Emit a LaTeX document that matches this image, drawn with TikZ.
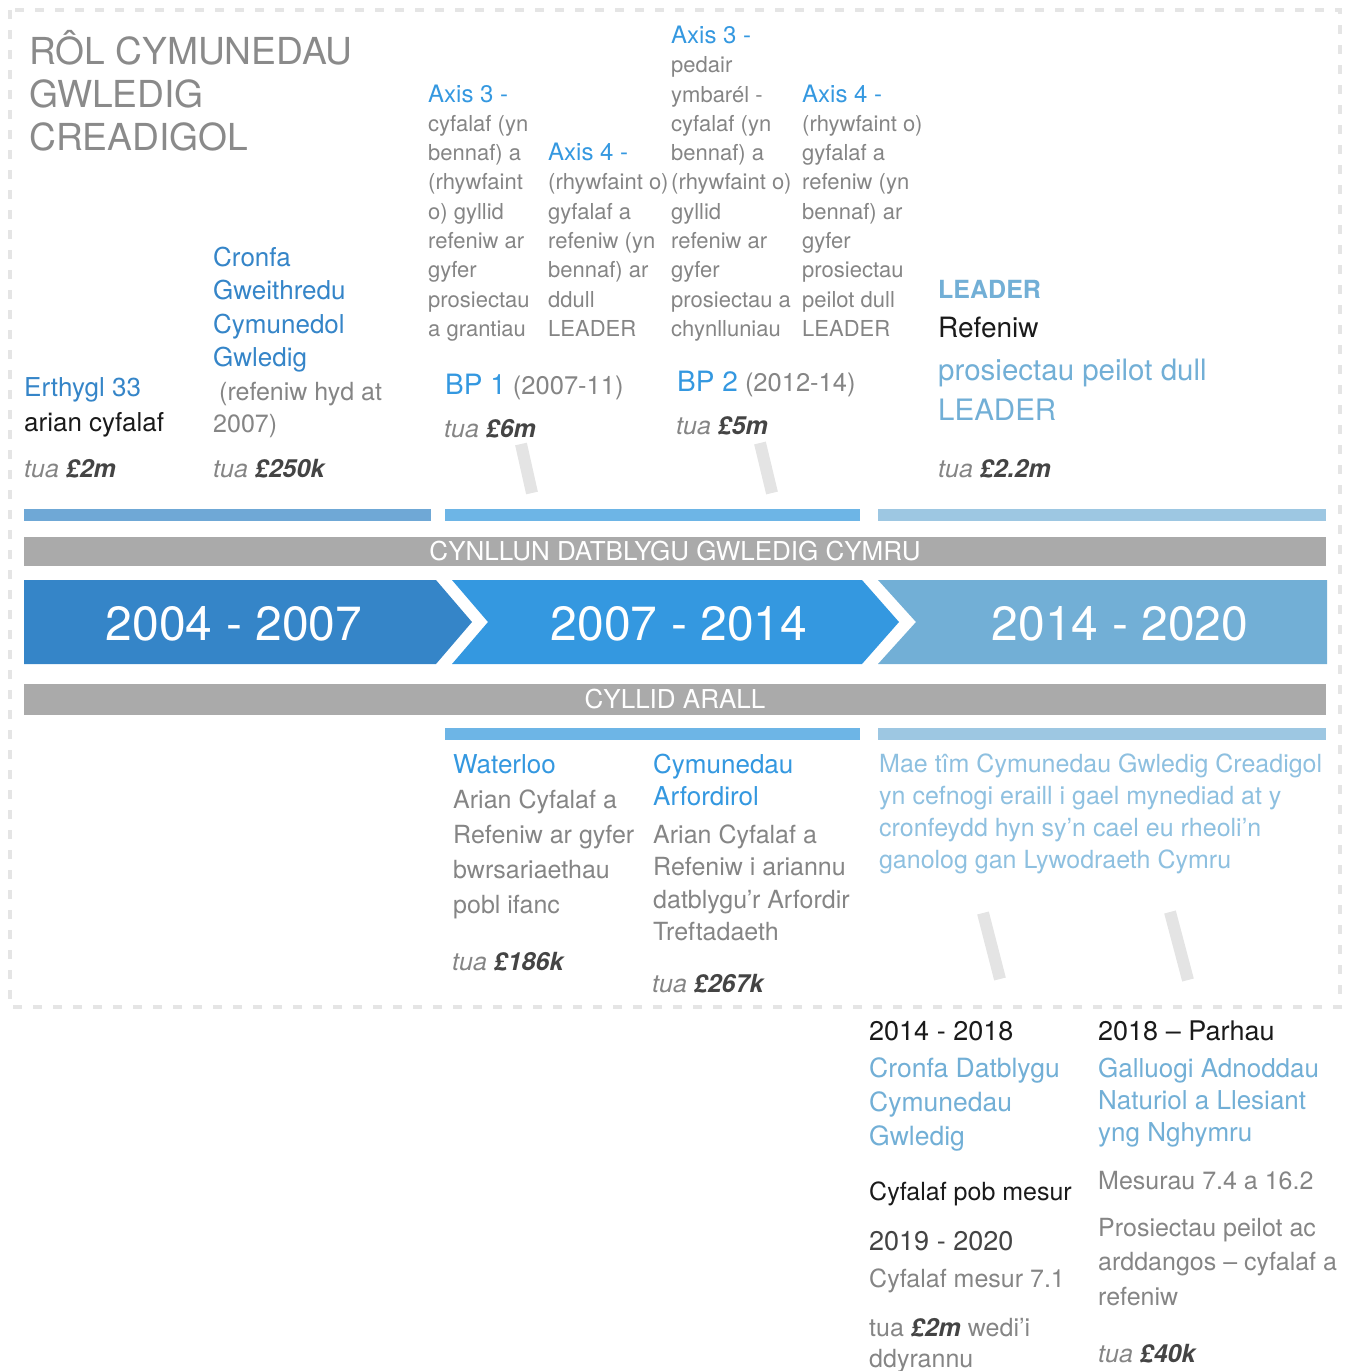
\documentclass[tikz,border=0pt]{standalone}
\usepackage{fontspec}
\setmainfont{TeX Gyre Heros}
\usepackage{tikz}

\definecolor{blueA}{HTML}{3585C8}
\definecolor{blueB}{HTML}{3498E0}
\definecolor{blueC}{HTML}{72AFD6}
\definecolor{barA}{HTML}{6FA8D6}
\definecolor{barB}{HTML}{6DB5E6}
\definecolor{barC}{HTML}{9DC7E2}
\definecolor{bandgray}{HTML}{AAAAAA}
\definecolor{txtgray}{HTML}{858585}
\definecolor{titlegray}{HTML}{8A8A8A}
\definecolor{amtdark}{HTML}{444444}
\definecolor{ink}{HTML}{1A1A1A}
\definecolor{paleblue}{HTML}{8EC0E0}
\definecolor{tabgray}{HTML}{E4E4E4}
\definecolor{dashgray}{HTML}{E5E5E5}

\newcommand{\fs}[2]{\fontsize{#1}{#2}\selectfont}
\newcommand{\tuaamt}[1]{{\itshape tua \bfseries\color{amtdark}#1}}
\newcommand{\axishead}[1]{{\fs{24}{29.3}\color{blueB}#1}}

\begin{document}
\begin{tikzpicture}[x=1pt,y=-1pt,
	txt/.style={anchor=base west,inner sep=0pt,align=left},
	body/.style={txt,text=txtgray,font=\fs{22}{29.3}},
	amount/.style={txt,text=txtgray,font=\fs{25}{31}},
	band/.style={fill=bandgray,text=white,inner sep=0pt,minimum width=1302pt,font=\fs{26}{30}},
	year/.style={anchor=base,inner sep=0pt,text=white,font=\fs{48}{50}},
	tab/.style={tabgray,line width=12pt}]
	
	\useasboundingbox (0,0) rectangle (1345,1371);
	\draw[dashgray,line width=4pt,dash pattern=on 9pt off 11pt] (10,10) rectangle (1340,1007);
	
	% (base = llinell olaf pob nod)
	\node[txt,text=titlegray,font=\fs{37.2}{43}] (title) at (29,150) {RÔL CYMUNEDAU\\GWLEDIG\\CREADIGOL};
	
	% echel 3 / 4
	\node[body] (axisA) at (428,336.4) {\axishead{Axis 3 -}\\cyfalaf (yn\\bennaf) a\\(rhywfaint\\o) gyllid\\refeniw ar\\gyfer\\prosiectau\\a grantiau};
	\node[body] (axisB) at (548,336.4) {\axishead{Axis 4 -}\\(rhywfaint o)\\gyfalaf a\\refeniw (yn\\bennaf) ar\\ddull\\LEADER};
	\node[body] (axisC) at (671,336.4) {\axishead{Axis 3 -}\\pedair\\ymbarél -\\cyfalaf (yn\\bennaf) a\\(rhywfaint o)\\gyllid\\refeniw ar\\gyfer\\prosiectau a\\chynlluniau};
	\node[body] (axisD) at (802,336.4) {\axishead{Axis 4 -}\\(rhywfaint o)\\gyfalaf a\\refeniw (yn\\bennaf) ar\\gyfer\\prosiectau\\peilot dull\\LEADER};
	
	\node[txt,text=blueA,font=\fs{26}{34}] (erthygl) at (24,396) {Erthygl 33};
	\node[txt,text=ink,font=\fs{26}{34}] (arian) at (24,431) {arian cyfalaf};
	\node[amount] (amtA) at (24,477) {\tuaamt{£2m}};
	
	\node[txt,text=blueA,font=\fs{26}{33.5}] (cronfaA) at (213,366.5) {Cronfa\\Gweithredu\\Cymunedol\\Gwledig};
	\node[txt,text=txtgray,font=\fs{25}{32}] (refA) at (213,432) {\hspace{6pt}(refeniw hyd at\\2007)};
	\node[amount] (amtB) at (213,477) {\tuaamt{£250k}};
	
	\node[txt,text=txtgray,font=\fs{25.5}{30}] (bp1) at (445,394) {{\fs{28}{30}\color{blueB}BP 1} (2007-11)};
	\node[amount] (amtC) at (444,437) {\tuaamt{£6m}};
	\node[txt,text=txtgray,font=\fs{25.5}{30}] (bp2) at (677,391) {{\fs{28}{30}\color{blueB}BP 2} (2012-14)};
	\node[amount] (amtD) at (676,434) {\tuaamt{£5m}};
	
	\node[txt,text=blueC,font=\bfseries\fs{25}{30}] (leader) at (938,298) {LEADER};
	\node[txt,text=ink,font=\fs{28}{30}] (refeniw) at (938,337) {Refeniw};
	\node[txt,text=blueC,font=\fs{29.5}{40}] (peilot) at (938,420) {prosiectau peilot dull\\LEADER};
	\node[amount] (amtE) at (938,477) {\tuaamt{£2.2m}};
	
	\draw[tab] (521,444) -- (532,493);
	\draw[tab] (760,443) -- (772,493);
	
	% bariau
	\fill[barA] (24,509) rectangle (431,521);
	\fill[barB] (445,509) rectangle (860,521);
	\fill[barC] (878,509) rectangle (1326,521);
	
	\node[band,minimum height=29pt] (rdp) at (675,551.5) {CYNLLUN DATBLYGU GWLEDIG CYMRU};
	
	\fill[blueA] (24,580) -- (436,580) -- (472,622) -- (436,664) -- (24,664) -- cycle;
	\fill[blueB] (452,580) -- (862,580) -- (899,622) -- (862,664) -- (452,664) -- (488,622) -- cycle;
	\fill[blueC] (878,580) -- (1327,580) -- (1327,664) -- (878,664) -- (916,622) -- cycle;
	\node[year] (y1) at (234,640) {2004 - 2007};
	\node[year] (y2) at (679,640) {2007 - 2014};
	\node[year] (y3) at (1120,640) {2014 - 2020};
	
	\node[band,minimum height=31pt] (arall) at (675,699.5) {CYLLID ARALL};
	
	\fill[barB] (445,728) rectangle (860,740);
	\fill[barC] (878,728) rectangle (1326,740);
	
	\node[txt,text=blueB,font=\fs{26}{32}] (waterloo) at (453,773) {Waterloo};
	\node[txt,text=txtgray,font=\fs{25}{35}] (waterlooT) at (453,913) {Arian Cyfalaf a\\Refeniw ar gyfer\\bwrsariaethau\\pobl ifanc};
	\node[amount] (amtF) at (452,970) {\tuaamt{£186k}};
	
	\node[txt,text=blueB,font=\fs{26}{32}] (arfordir) at (653,805) {Cymunedau\\Arfordirol};
	\node[txt,text=txtgray,font=\fs{25}{32.5}] (arfordirT) at (653,940.5) {Arian Cyfalaf a\\Refeniw i ariannu\\datblygu’r Arfordir\\Treftadaeth};
	\node[amount] (amtG) at (652,992) {\tuaamt{£267k}};
	
	\node[txt,text=paleblue,font=\fs{25}{32}] (maetim) at (879,868) {Mae tîm Cymunedau Gwledig Creadigol\\yn cefnogi eraill i gael mynediad at y\\cronfeydd hyn sy’n cael eu rheoli’n\\ganolog gan Lywodraeth Cymru};
	
	\draw[tab] (983,913) -- (1000,979);
	\draw[tab] (1170,912) -- (1188,980);
	
	% tu allan i'r ffin
	\node[txt,text=ink,font=\fs{27}{30}] (cdcg) at (869,1040) {2014 - 2018};
	\node[txt,text=blueC,font=\fs{26.5}{34}] (cdcgT) at (869,1145) {Cronfa Datblygu\\Cymunedau\\Gwledig};
	\node[txt,text=ink,font=\fs{25}{30}] (pobmesur) at (869,1200) {Cyfalaf pob mesur};
	\node[txt,text=amtdark,font=\fs{27}{30}] (y1920) at (869,1250) {2019 - 2020};
	\node[txt,text=txtgray,font=\fs{25}{30}] (mesur71) at (869,1287) {Cyfalaf mesur 7.1};
	\node[txt,text=txtgray,font=\fs{25}{31}] (dyrannu) at (869,1367) {tua {\bfseries\itshape\color{amtdark}£2m} wedi’i\\ddyrannu};
	
	\node[txt,text=ink,font=\fs{27}{30}] (parhau) at (1098,1040) {2018 – Parhau};
	\node[txt,text=blueC,font=\fs{26}{32}] (galluogi) at (1098,1141) {Galluogi Adnoddau\\Naturiol a Llesiant\\yng Nghymru};
	\node[txt,text=txtgray,font=\fs{25}{30}] (mesurau) at (1098,1189) {Mesurau 7.4 a 16.2};
	\node[txt,text=txtgray,font=\fs{25}{34.5}] (arddangos) at (1098,1305) {Prosiectau peilot ac\\arddangos – cyfalaf a\\refeniw};
	\node[amount] (amtH) at (1098,1362) {\tuaamt{£40k}};
	
\end{tikzpicture}
\end{document}
